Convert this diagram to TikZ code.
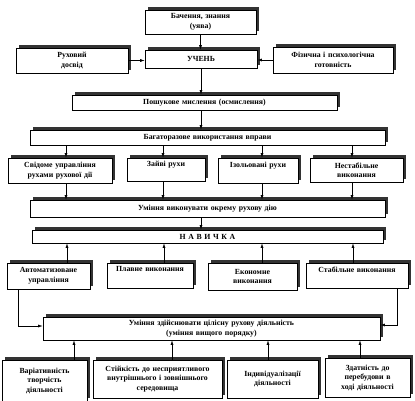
\documentclass[tikz,border=0pt]{standalone}
\usepackage{fontspec}
\setmainfont{Liberation Serif}
\usetikzlibrary{arrows.meta,calc}
\tikzset{
  bx/.style={draw=black, line width=0.6pt, fill=white, align=center, inner sep=1pt,
    font=\bfseries\fontsize{7.8}{9.5}\selectfont},
  arr/.style={-{Latex[length=4.5pt,width=3pt]}, line width=0.6pt},
  ln/.style={line width=0.6pt},
  shd/.style={fill=black!80}
}
\newcommand\mybox[6]{%
  \pgfmathsetmacro\bw{#4-#2}\pgfmathsetmacro\bh{#5-#3}\pgfmathsetmacro\tw{#4-#2-4}%
  \fill[shd] (#2+3,#3-3) rectangle (#4+3,#5-3);
  \node[bx, minimum width=\bw pt, minimum height=\bh pt, text width=\tw pt] (#1) at ({(#2+#4)/2},{(#3+#5)/2}) {#6};
}
\begin{document}
\begin{tikzpicture}[x=1pt,y=-1pt]
\useasboundingbox (0,0) rectangle (415,400);
\fill[white] (0,0) rectangle (415,400);
% boxes
\mybox{top}{145}{10}{256}{34}{Бачення, знання\\(уява)}
\mybox{dosv}{16}{48}{128}{73}{Руховий\\досвід}
\mybox{uch}{145}{50}{257}{68}{УЧЕНЬ}
\mybox{fiz}{273}{47}{393}{73}{Фізична і психологічна\\готовність}
\mybox{posh}{72}{95}{337}{110}{Пошукове мислення (осмислення)}
\mybox{bag}{30}{130}{385}{145}{Багаторазове використання вправи}
\mybox{svid}{8}{158}{112}{183}{Свідоме управління\\рухами рухової дії}
\mybox{zaiv}{127}{158}{205}{181}{Зайві рухи\\\strut}
\mybox{izol}{218}{158}{298}{183}{Ізольовані рухи\\\strut}
\mybox{nest}{310}{158}{403}{182}{Нестабільне\\виконання}
\mybox{umv}{30}{200}{385}{217}{Уміння виконувати окрему рухову дію}
\mybox{nav}{32}{230}{383}{243}{Н А В И Ч К А}
\mybox{avt}{7}{263}{90}{289}{Автоматизоване\\управління}
\mybox{plav}{107}{263}{193}{288}{Плавне виконання\\\strut}
\mybox{ekon}{208}{263}{297}{290}{Економне\\виконання}
\mybox{stab}{306}{263}{408}{288}{Стабільне виконання\\\strut}
\mybox{umz}{43}{317}{380}{340}{Уміння здійснювати цілісну рухову діяльність\\(уміння вищого порядку)}
\mybox{var}{2}{360}{87}{401}{Варіативність\\творчість\\діяльності}
\mybox{stiy}{93}{360}{222}{398}{Стійкість до несприятливого\\внутрішнього і зовнішнього\\середовища}
\mybox{ind}{227}{360}{318}{398}{Індивідуалізації\\діяльності}
\mybox{zdat}{325}{358}{410}{397}{Здатність до\\перебудови в\\ході діяльності}
% connectors
\draw[arr] (top.south) -- (top.south |- uch.north);
\draw[arr] (dosv.east) -- (dosv.east -| uch.west);
\draw[arr] (fiz.west) -- (fiz.west -| uch.east);
\draw[arr] (uch.south) -- (uch.south |- posh.north);
\draw[arr] (uch.south |- posh.south) -- (uch.south |- bag.north);
\foreach \n/\x in {svid/66, zaiv/163, izol/262, nest/352}{
  \draw[arr] (bag.south -| \x,0) -- (\n.north -| \x,0);
  \draw[arr] (\n.south -| \x,0) -- (umv.north -| \x,0);
}
\draw[arr] (uch.south |- umv.south) -- (uch.south |- nav.north);
\foreach \n/\x in {avt/67, plav/164, ekon/262, stab/353}{
  \draw[arr] (\n.north -| \x,0) -- (nav.south -| \x,0);
}
\coordinate (la) at (18,326);
\coordinate (ra) at (397,325);
\draw[arr] (avt.south -| la) -- (la) -- (la -| umz.west);
\draw[arr] (stab.south -| ra) -- (ra) -- (ra -| umz.east);
\foreach \n/\x in {var/74, stiy/172, ind/268, zdat/360}{
  \draw[arr] (\n.north -| \x,0) -- (umz.south -| \x,0);
}
\end{tikzpicture}
\end{document}
